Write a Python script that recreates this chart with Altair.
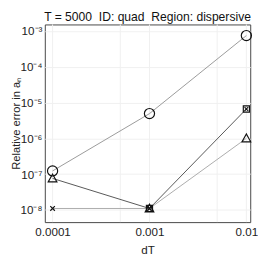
import altair as alt
import pandas as pd

dT = [1e-4, 1e-3, 1e-2]
err_circle = [1.23e-7, 4.9e-6, 7.4e-4]
err_dark = [7.6e-8, 1.1e-8, 6.6e-6]
err_light = [1.1e-8, 1.1e-8, 1.0e-6]

# markers: (dT, value, shape)
mk_x = [1e-4, 1e-3, 1e-2, 1e-4, 1e-3, 1e-2, 1e-4, 1e-3, 1e-3, 1e-2, 1e-3, 1e-2]
mk_y = [1.23e-7, 4.9e-6, 7.4e-4, 7.6e-8, 1.1e-8, 1.0e-6, 1.1e-8, 1.1e-8, 1.1e-8, 6.6e-6, 1.1e-8, 6.6e-6]
mk_s = ["circle", "circle", "circle", "triangle", "triangle", "triangle", "x", "x", "square", "square", "x2", "x2"]

x_ticks = [1e-4, 1e-3, 1e-2]
x_grid = [1e-4, 5e-4, 1e-3, 5e-3, 1e-2]
y_ticks = [1e-8, 1e-7, 1e-6, 1e-5, 1e-4, 1e-3]

title_text = "T = 5000\u00a0\u00a0ID: quad\u00a0\u00a0Region: dispersive"

lines = pd.DataFrame({
    "dT": dT * 3,
    "err": err_circle + err_dark + err_light,
    "series": ["circle"] * 3 + ["dark"] * 3 + ["light"] * 3,
})
marks = pd.DataFrame({"dT": mk_x, "err": mk_y, "shape": mk_s})

xs = alt.Scale(type="log", domain=[10 ** -4.08, 10 ** -1.96], nice=False)
ys = alt.Scale(type="log", domain=[10 ** -8.34, 10 ** -2.82], nice=False)

x_enc = alt.X("dT:Q", scale=xs, title="dT",
              axis=alt.Axis(values=x_ticks, labelExpr="datum.value < 0.0005 ? '0.0001' : datum.value < 0.005 ? '0.001' : '0.01'",
                            grid=False, domain=False, ticks=False, labelPadding=5,
                            labelFontSize=12, titleFontSize=12, titleFontWeight="normal",
                            titlePadding=7, labelColor="#222", titleColor="#222",
                            labelFont="Liberation Sans", titleFont="Liberation Sans"))
y_enc = alt.Y("err:Q", scale=ys, title="Relative error in aₙ",
              axis=alt.Axis(values=y_ticks,
                            labelExpr="'10' + ['⁻⁸','⁻⁷','⁻⁶','⁻⁵','⁻⁴','⁻³'][round(log(datum.value)/log(10)) + 8]",
                            grid=True, gridColor="#efefef", domain=False, ticks=False, labelPadding=3,
                            labelFontSize=12, titleFontSize=11.5, titleFontWeight="normal",
                            labelColor="#222", titleColor="#222", titleX=-26, titleBaseline="alphabetic",
                            labelFont="Liberation Sans", titleFont="Liberation Sans"))

grid_df = pd.DataFrame({"dT": x_grid})
vgrid = alt.Chart(grid_df).mark_rule(color="#efefef", strokeWidth=1).encode(
    x=alt.X("dT:Q", scale=xs))

line_layer = alt.Chart(lines).mark_line(strokeWidth=1).encode(
    x=x_enc, y=y_enc,
    detail="series:N",
    color=alt.Color("series:N", scale=alt.Scale(domain=["circle", "dark", "light"],
                                                range=["#999999", "#555555", "#aaaaaa"]), legend=None),
)

def pts(shape, vshape, size, sw=1.2, filled=False):
    return alt.Chart(marks).transform_filter(alt.datum.shape == shape).mark_point(
        shape=vshape, size=size, strokeWidth=sw, color="#111", filled=filled, opacity=1).encode(
        x=alt.X("dT:Q", scale=xs), y=alt.Y("err:Q", scale=ys))

circles = pts("circle", "circle", 110)
triangles = pts("triangle", "M-1,0.8L0,-1L1,0.8Z", 80)
crosses = pts("x", "M-1,-1L1,1M-1,1L1,-1", 22)
squares = pts("square", "square", 40)
crosses2 = pts("x2", "M-1,-1L1,1M-1,1L1,-1", 14)

chart = alt.layer(vgrid, line_layer, circles, triangles, crosses, squares, crosses2).properties(
    width=212, height=204,
    title=alt.TitleParams(title_text, fontSize=12.5,
                          font="Liberation Sans", fontWeight="normal", color="#111",
                          offset=1, anchor="middle"),
    autosize=alt.AutoSizeParams(type="none"),
    padding={"left": 38, "top": 13, "right": 8, "bottom": 32},
).configure_view(stroke="#444", strokeWidth=1)

chart.save("out.html", embed_options={"renderer": "svg", "actions": False})
